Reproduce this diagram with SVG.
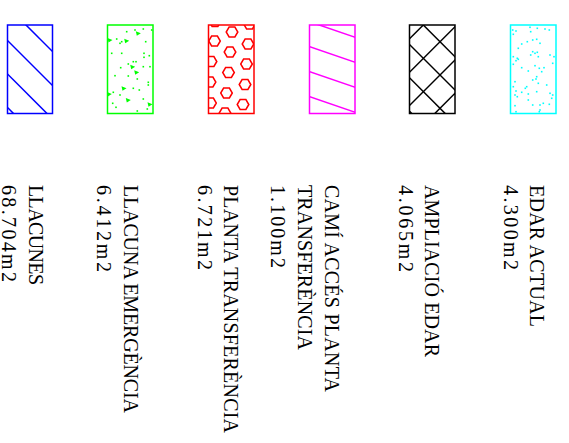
<svg xmlns="http://www.w3.org/2000/svg" xmlns:xlink="http://www.w3.org/1999/xlink" width="569" height="443" viewBox="0 0 569 443">
<style>
.frame{fill:none;stroke-width:1.5}
.hatch{fill:none;stroke-width:1.5}
.lbl{font-family:"Liberation Serif","Times New Roman",serif;font-size:20px;fill:#000}
</style>
<defs>
<clipPath id="c1"><rect x="7.5" y="25" width="45" height="88.5"/></clipPath>
<clipPath id="c2"><rect x="107.5" y="25" width="45.5" height="88.5"/></clipPath>
<clipPath id="c3"><rect x="208.5" y="25" width="45.5" height="88.5"/></clipPath>
<clipPath id="c4"><rect x="309.5" y="25" width="45.5" height="88.5"/></clipPath>
<clipPath id="c5"><rect x="409.5" y="25" width="45.5" height="88.5"/></clipPath>
<clipPath id="c6"><rect x="510.5" y="25" width="45.5" height="88.5"/></clipPath>
<path id="hex" d="M5.8,0 L2.9,5 L-2.9,5 L-5.8,0 L-2.9,-5 L2.9,-5 Z" fill="none" stroke="#f00" stroke-width="1.5"/>
<rect id="gd" x="-0.8" y="-0.8" width="1.6" height="1.6" fill="#0f0"/>
<path id="gt" d="M-2.5,-2 L2.5,0 L-1.5,2.5 Z" fill="#0f0"/>
<rect id="cd" x="-0.8" y="-0.8" width="1.6" height="1.6" fill="#0ff"/>
</defs>

<g id="node-llacunes">
<g clip-path="url(#c1)" class="hatch" stroke="#00f">
<line x1="7" y1="6" x2="60" y2="59"/>
<line x1="7" y1="40" x2="80" y2="113"/>
<line x1="7" y1="73.5" x2="60" y2="126.5"/>
<line x1="7" y1="107" x2="30" y2="130"/>
</g>
<rect class="frame" stroke="#00f" x="7.5" y="25" width="45" height="88.5"/>
<text class="lbl" transform="translate(28.5,185) rotate(90)"><tspan x="0" y="0" textLength="100" lengthAdjust="spacing">LLACUNES</tspan><tspan x="0" y="26.5" textLength="97" lengthAdjust="spacing">68.704m2</tspan></text>
</g>

<g id="node-llacuna-emergencia">
<g clip-path="url(#c2)">
<use xlink:href="#gd" x="126.7" y="31.7"/><use xlink:href="#gd" x="135" y="30"/><use xlink:href="#gd" x="143.3" y="29"/><use xlink:href="#gd" x="151.7" y="30"/>
<use xlink:href="#gt" x="138.3" y="33.3"/><use xlink:href="#gt" x="110" y="40"/><use xlink:href="#gd" x="116.7" y="39"/><use xlink:href="#gd" x="121.7" y="41.7"/>
<use xlink:href="#gt" x="126.7" y="40.7"/><use xlink:href="#gd" x="120" y="43.3"/><use xlink:href="#gd" x="145.7" y="41.7"/><use xlink:href="#gd" x="111.7" y="53.3"/>
<use xlink:href="#gd" x="121.7" y="53.3"/><use xlink:href="#gd" x="144" y="53.3"/><use xlink:href="#gd" x="144" y="57.3"/><use xlink:href="#gd" x="149.3" y="55.7"/>
<use xlink:href="#gd" x="133.3" y="61.7"/><use xlink:href="#gd" x="136" y="61.7"/><use xlink:href="#gd" x="128.3" y="64"/><use xlink:href="#gt" x="132.7" y="66.7"/>
<use xlink:href="#gd" x="143.3" y="66.7"/><use xlink:href="#gd" x="150" y="66.7"/><use xlink:href="#gd" x="120.7" y="67.7"/><use xlink:href="#gt" x="136.7" y="72.3"/>
<use xlink:href="#gd" x="115" y="75.7"/><use xlink:href="#gd" x="128.3" y="76"/><use xlink:href="#gd" x="137.3" y="79"/><use xlink:href="#gd" x="148.3" y="82.3"/>
<use xlink:href="#gd" x="148.3" y="85"/><use xlink:href="#gt" x="124" y="88.3"/><use xlink:href="#gd" x="133.3" y="88.3"/><use xlink:href="#gd" x="139.3" y="90"/>
<use xlink:href="#gd" x="113.3" y="92.3"/><use xlink:href="#gt" x="109.3" y="94"/><use xlink:href="#gd" x="120" y="95"/><use xlink:href="#gt" x="128.3" y="100"/>
<use xlink:href="#gd" x="143.3" y="99"/><use xlink:href="#gd" x="112.7" y="103.3"/><use xlink:href="#gt" x="150" y="104.3"/><use xlink:href="#gd" x="116" y="107.3"/>
<use xlink:href="#gd" x="147.3" y="109"/><use xlink:href="#gd" x="137.3" y="111"/>
</g>
<rect class="frame" stroke="#0f0" x="107.5" y="25" width="45.5" height="88.5"/>
<text class="lbl" transform="translate(123.5,185) rotate(90)"><tspan x="0" y="0" textLength="228" lengthAdjust="spacing">LLACUNA EMERGÈNCIA</tspan><tspan x="0" y="26.5" textLength="87" lengthAdjust="spacing">6.412m2</tspan></text>
</g>

<g id="node-planta-transferencia">
<g clip-path="url(#c3)">
<use xlink:href="#hex" x="232" y="32"/><use xlink:href="#hex" x="249.5" y="24"/><use xlink:href="#hex" x="215" y="21.5"/>
<use xlink:href="#hex" x="214.5" y="41"/><use xlink:href="#hex" x="248" y="44"/><use xlink:href="#hex" x="230" y="52"/>
<use xlink:href="#hex" x="211" y="61.5"/><use xlink:href="#hex" x="246.5" y="64"/><use xlink:href="#hex" x="228.5" y="72.5"/>
<use xlink:href="#hex" x="210" y="82"/><use xlink:href="#hex" x="245" y="84.5"/><use xlink:href="#hex" x="226.5" y="93"/>
<use xlink:href="#hex" x="210.5" y="103"/><use xlink:href="#hex" x="243" y="104.5"/><use xlink:href="#hex" x="225" y="113"/>
</g>
<rect class="frame" stroke="#f00" x="208.5" y="25" width="45.5" height="88.5"/>
<text class="lbl" transform="translate(224,185) rotate(90)"><tspan x="0" y="0" textLength="248" lengthAdjust="spacing">PLANTA TRANSFERÈNCIA</tspan><tspan x="0" y="26.5" textLength="85" lengthAdjust="spacing">6.721m2</tspan></text>
</g>

<g id="node-cami-acces">
<g clip-path="url(#c4)" class="hatch" stroke="#f0f">
<line x1="309" y1="21.5" x2="360" y2="39"/>
<line x1="309" y1="46.5" x2="360" y2="64"/>
<line x1="309" y1="71.5" x2="360" y2="89"/>
<line x1="309" y1="96.5" x2="360" y2="114"/>
</g>
<rect class="frame" stroke="#f0f" x="309.5" y="25" width="45.5" height="88.5"/>
<text class="lbl" transform="translate(325,185) rotate(90)"><tspan x="0" y="0" textLength="207" lengthAdjust="spacing">CAMÍ ACCÉS PLANTA</tspan><tspan x="0" y="27" textLength="165" lengthAdjust="spacing">TRANSFERÈNCIA</tspan><tspan x="0" y="54.5" textLength="83" lengthAdjust="spacing">1.100m2</tspan></text>
</g>

<g id="node-ampliacio-edar">
<g clip-path="url(#c5)" class="hatch" stroke="#000">
<line x1="390" y1="-8.3" x2="470" y2="71.7"/>
<line x1="390" y1="25" x2="470" y2="105"/>
<line x1="390" y1="58.3" x2="470" y2="138.3"/>
<line x1="390" y1="91.7" x2="470" y2="171.7"/>
<line x1="390" y1="125" x2="470" y2="205"/>
<line x1="410" y1="-8.3" x2="470" y2="-68.3"/>
<line x1="390" y1="58.3" x2="470" y2="-21.7"/>
<line x1="390" y1="91.7" x2="470" y2="11.7"/>
<line x1="390" y1="125" x2="470" y2="45"/>
<line x1="390" y1="158.3" x2="470" y2="78.3"/>
<line x1="390" y1="191.7" x2="470" y2="111.7"/>
<line x1="390" y1="225" x2="470" y2="145"/>
</g>
<rect class="frame" stroke="#000" x="409.5" y="25" width="45.5" height="88.5"/>
<text class="lbl" transform="translate(425,185) rotate(90)"><tspan x="0" y="0" textLength="172" lengthAdjust="spacing">AMPLIACIÓ EDAR</tspan><tspan x="0" y="26.5" textLength="87" lengthAdjust="spacing">4.065m2</tspan></text>
</g>

<g id="node-edar-actual">
<g clip-path="url(#c6)">
<use xlink:href="#cd" x="512.7" y="30"/><use xlink:href="#cd" x="516" y="31"/><use xlink:href="#cd" x="530" y="27.3"/><use xlink:href="#cd" x="537.3" y="28.3"/>
<use xlink:href="#cd" x="545" y="29"/><use xlink:href="#cd" x="549.3" y="30"/><use xlink:href="#cd" x="530.7" y="31.7"/><use xlink:href="#cd" x="513.3" y="34.3"/>
<use xlink:href="#cd" x="532.7" y="40"/><use xlink:href="#cd" x="536.7" y="39.3"/><use xlink:href="#cd" x="527.3" y="41.7"/><use xlink:href="#cd" x="540" y="43.3"/>
<use xlink:href="#cd" x="521.7" y="44"/><use xlink:href="#cd" x="518.3" y="48.3"/><use xlink:href="#cd" x="532.7" y="51.7"/><use xlink:href="#cd" x="535" y="53.3"/>
<use xlink:href="#cd" x="530.7" y="55"/><use xlink:href="#cd" x="538.3" y="56.7"/><use xlink:href="#cd" x="537.3" y="52.3"/><use xlink:href="#cd" x="550" y="55"/>
<use xlink:href="#cd" x="554" y="56.7"/><use xlink:href="#cd" x="513.3" y="56.7"/><use xlink:href="#cd" x="517.3" y="58.3"/><use xlink:href="#cd" x="516" y="60.7"/>
<use xlink:href="#cd" x="518.3" y="59.3"/><use xlink:href="#cd" x="513.3" y="64.3"/><use xlink:href="#cd" x="552.7" y="63.3"/><use xlink:href="#cd" x="535" y="65.7"/>
<use xlink:href="#cd" x="521.7" y="67.7"/><use xlink:href="#cd" x="539.3" y="68.3"/><use xlink:href="#cd" x="544" y="67.7"/><use xlink:href="#cd" x="528.3" y="71"/>
<use xlink:href="#cd" x="541.7" y="71.7"/><use xlink:href="#cd" x="536.7" y="76.7"/><use xlink:href="#cd" x="532.7" y="80"/><use xlink:href="#cd" x="536" y="79"/>
<use xlink:href="#cd" x="515" y="81.7"/><use xlink:href="#cd" x="538.3" y="83.3"/><use xlink:href="#cd" x="526.7" y="86.7"/><use xlink:href="#cd" x="525.3" y="88.3"/>
<use xlink:href="#cd" x="513.3" y="86.7"/><use xlink:href="#cd" x="546.7" y="85"/><use xlink:href="#cd" x="516" y="91"/><use xlink:href="#cd" x="521.7" y="92.3"/>
<use xlink:href="#cd" x="536.7" y="91.7"/><use xlink:href="#cd" x="550" y="93.3"/><use xlink:href="#cd" x="552.7" y="95"/><use xlink:href="#cd" x="515" y="95"/>
<use xlink:href="#cd" x="517.3" y="96.7"/><use xlink:href="#cd" x="551.7" y="98.3"/><use xlink:href="#cd" x="528.3" y="100"/><use xlink:href="#cd" x="543.3" y="103.3"/>
<use xlink:href="#cd" x="540" y="105"/><use xlink:href="#cd" x="549.3" y="104.3"/><use xlink:href="#cd" x="532.7" y="105"/><use xlink:href="#cd" x="515" y="105.7"/>
<use xlink:href="#cd" x="540" y="110"/><use xlink:href="#cd" x="516" y="111.7"/><use xlink:href="#cd" x="539.3" y="111.7"/><use xlink:href="#cd" x="528.3" y="94"/>
</g>
<rect class="frame" stroke="#0ff" x="510.5" y="25" width="45.5" height="88.5"/>
<text class="lbl" transform="translate(530,185) rotate(90)"><tspan x="0" y="0" textLength="142" lengthAdjust="spacing">EDAR ACTUAL</tspan><tspan x="0" y="26.5" textLength="85" lengthAdjust="spacing">4.300m2</tspan></text>
</g>

<g id="connectors"/>
</svg>
